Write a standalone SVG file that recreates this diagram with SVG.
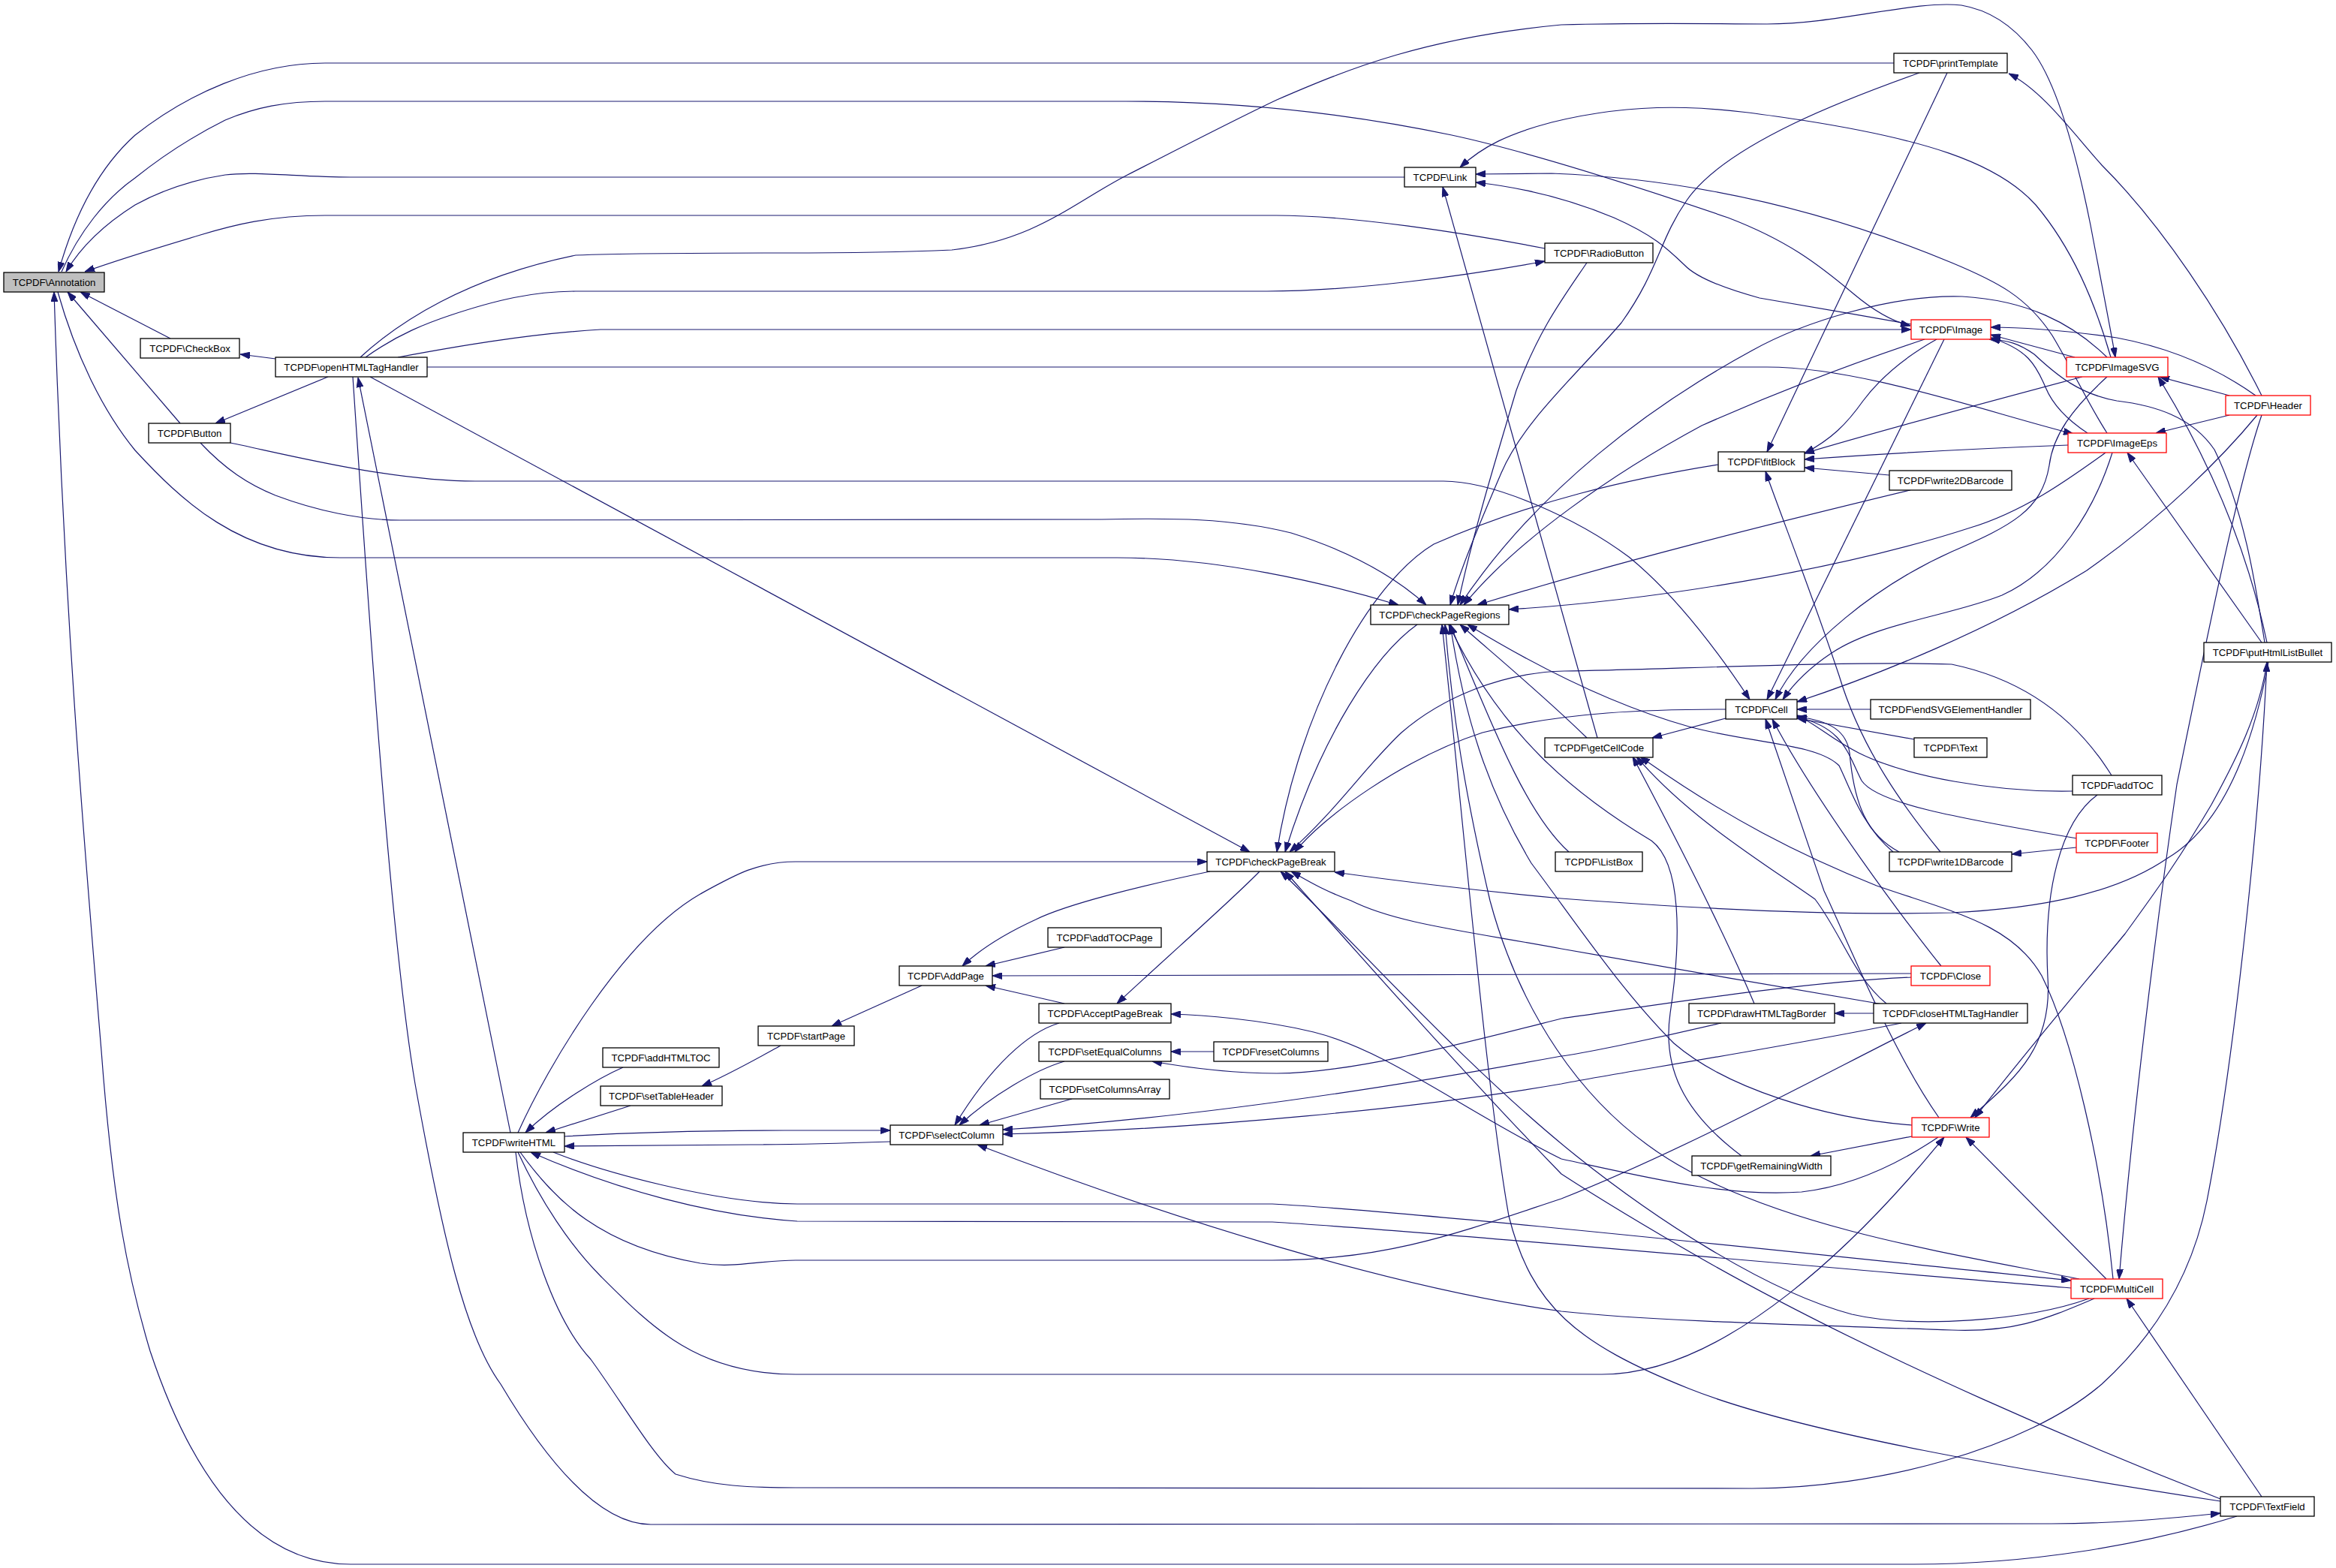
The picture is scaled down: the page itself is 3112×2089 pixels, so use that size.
<svg xmlns="http://www.w3.org/2000/svg" width="3112" height="2089" viewBox="0 0 3112 2089">
<defs>
<style>
.e path{fill:none;stroke:#191970;stroke-width:1.2;marker-end:url(#ah)}
.n rect{fill:#ffffff;stroke:#000000;stroke-width:1.3}
.n.r rect{stroke:#ff0000}
.n.g rect{fill:#bfbfbf}
.n text{font-family:"Liberation Sans",Arial,sans-serif;font-size:13.2px;text-anchor:middle;fill:#000000}
</style>
<marker id="ah" viewBox="0 0 13 9" refX="13" refY="4.5" markerWidth="13" markerHeight="9" markerUnits="userSpaceOnUse" orient="auto"><path d="M0,0L13,4.5L0,9z" fill="#191970" stroke="#191970" stroke-width="1"/></marker>
</defs>
<rect x="0" y="0" width="3112" height="2089" fill="#ffffff"/>
<g id="edges" class="e">
<path d="M2523,84 L433,84 C340,84 250,125 180,180 C130,225 98,290 78,362"/>
<path d="M82,362 C105,310 140,265 180,237 C220,205 260,180 300,160 C340,143 380,135 433,135 L1500,135 C1650,135 1800,152 1934,180 C2050,205 2200,255 2302,290 C2380,320 2420,350 2470,392 C2495,413 2520,428 2545,434"/>
<path d="M1871,236 L467,236 C400,236 340,228 300,233 C240,242 200,262 180,273 C145,295 110,325 88,362"/>
<path d="M2058,331 C1950,310 1800,287 1700,287 L433,287 C360,287 310,300 267,313 C210,330 160,345 113,362"/>
<path d="M77,389 C100,470 135,545 180,600 C240,665 320,743 453,743 L1488,743 C1620,743 1760,775 1863,806"/>
<path d="M227,451 L107,389"/>
<path d="M240,564 L90,389"/>
<path d="M2980,2020 C2850,2060 2700,2084 2550,2084 L467,2084 C330,2084 250,1950 200,1800 C170,1700 150,1600 135,1400 C110,1100 85,800 72,389"/>
<path d="M367,478 L320,472"/>
<path d="M437,502 L287,564"/>
<path d="M307,590 C380,605 520,641 633,641 L1923,641 C1990,641 2100,690 2170,742 C2235,795 2290,870 2331,932"/>
<path d="M267,590 C300,625 330,645 367,660 C420,680 480,693 533,693 L1468,692 C1560,690 1640,690 1720,710 C1800,735 1860,770 1900,806"/>
<path d="M480,476 C530,430 620,370 767,340 C850,337 950,337 1045,337 C1150,337 1200,336 1268,333 C1380,320 1430,270 1502,233 C1600,183 1650,157 1701,133 C1800,90 1900,50 2080,33 C2200,30 2280,32 2354,32 C2450,32 2550,0 2613,7 C2660,15 2690,45 2707,67 C2740,110 2765,200 2785,300 C2800,380 2812,440 2818,476"/>
<path d="M487,476 C530,445 570,430 600,420 C660,400 710,388 767,388 L1688,388 C1800,388 1950,368 2058,348"/>
<path d="M530,476 C600,463 700,445 800,439 L2546,439"/>
<path d="M569,489 L2354,489 C2480,489 2650,550 2762,578"/>
<path d="M493,502 L1665,1135"/>
<path d="M470,502 C490,800 520,1250 553,1444 C590,1650 620,1780 667,1844 C730,1950 800,2031 867,2031 L2733,2030 C2820,2030 2900,2022 2958,2016"/>
<path d="M680,1509 L477,503"/>
<path d="M690,1509 C730,1420 830,1250 933,1191 C980,1165 1010,1148 1060,1148 L1608,1148"/>
<path d="M830,1422 C800,1435 740,1470 700,1509"/>
<path d="M840,1473 L727,1509"/>
<path d="M752,1514 C850,1508 950,1506 1045,1506 L1186,1506"/>
<path d="M1186,1521 C1100,1524 1050,1525 1000,1525 L752,1527"/>
<path d="M737,1535 C800,1560 950,1603 1062,1604 L1695,1604 C1900,1615 2500,1680 2759,1706"/>
<path d="M2759,1716 C2500,1695 1900,1640 1695,1628 L1062,1627 C950,1620 820,1585 707,1535"/>
<path d="M693,1535 C740,1600 800,1660 933,1683 C980,1690 1010,1679 1060,1679 L1695,1679 C1850,1679 1950,1640 2080,1597 C2250,1530 2450,1420 2566,1363"/>
<path d="M690,1535 C720,1600 760,1660 800,1700 C870,1770 930,1831 1060,1831 L2134,1831 C2300,1831 2480,1650 2590,1515"/>
<path d="M687,1535 C700,1650 740,1760 787,1811 C830,1870 870,1940 900,1964 C950,1980 1000,1982 1060,1982 L2334,1983 C2500,1983 2700,1930 2800,1844 C2870,1780 2920,1700 2940,1600 C2975,1420 3010,1100 3020,882"/>
<path d="M1040,1393 C1000,1415 970,1432 935,1447"/>
<path d="M1228,1313 L1108,1367"/>
<path d="M1612,1161 C1520,1180 1420,1205 1380,1225 C1330,1248 1300,1270 1282,1287"/>
<path d="M1418,1262 L1313,1287"/>
<path d="M1418,1337 L1313,1313"/>
<path d="M2546,1297 C2300,1298 1900,1300 1322,1300"/>
<path d="M2546,1302 C2400,1308 2200,1340 2080,1357 C1950,1390 1800,1430 1701,1430 C1640,1430 1580,1422 1535,1414"/>
<path d="M1411,1363 C1370,1375 1320,1420 1272,1499"/>
<path d="M1418,1414 C1380,1425 1320,1460 1278,1499"/>
<path d="M1428,1464 L1305,1499"/>
<path d="M2533,1363 C2350,1400 2150,1430 2080,1444 C1900,1475 1600,1505 1336,1511"/>
<path d="M2293,1363 C2200,1385 2100,1405 2080,1407 C1900,1440 1600,1490 1336,1505"/>
<path d="M2790,1730 C2720,1760 2680,1775 2600,1772 C2400,1765 2200,1760 2080,1747 C1850,1715 1550,1620 1302,1525"/>
<path d="M1617,1401 L1560,1401"/>
<path d="M1678,1161 C1640,1200 1560,1270 1488,1337"/>
<path d="M2582,1515 C2530,1550 2470,1580 2400,1588 C2300,1595 2200,1570 2080,1544 C1950,1480 1850,1400 1750,1375 C1680,1358 1600,1352 1560,1351"/>
<path d="M1888,832 C1832,872 1760,980 1712,1135"/>
<path d="M2289,619 C2170,638 2040,668 1910,725 C1823,777 1730,950 1701,1135"/>
<path d="M2299,945 C2200,945 2084,948 1975,976 C1870,1010 1760,1090 1725,1135"/>
<path d="M2813,1033 C2780,980 2720,910 2600,885 C2450,880 2200,893 2084,894 C2000,896 1920,930 1867,976 C1820,1020 1780,1080 1718,1135"/>
<path d="M3022,882 C3000,1000 2960,1100 2888,1143 C2820,1190 2720,1210 2600,1216 C2450,1220 2250,1210 2080,1197 C1950,1185 1850,1172 1778,1162"/>
<path d="M2958,1997 C2800,1935 2500,1810 2267,1677 C2180,1627 2120,1590 2080,1564 C1950,1430 1800,1260 1712,1161"/>
<path d="M2520,1340 C2400,1320 2200,1285 2080,1264 C1950,1240 1860,1230 1800,1200 C1760,1185 1740,1172 1720,1161"/>
<path d="M2557,97 C2470,128 2300,190 2247,267 C2210,320 2210,360 2160,430 C2100,500 2030,560 2000,630 C1970,700 1945,760 1932,806"/>
<path d="M2594,97 L2354,602"/>
<path d="M3013,527 C2960,420 2880,300 2800,220 C2760,175 2720,120 2676,98"/>
<path d="M3005,527 C2960,495 2900,465 2820,450 C2750,440 2700,436 2652,436"/>
<path d="M2970,527 L2877,502"/>
<path d="M2970,553 L2872,577"/>
<path d="M3007,553 C2960,610 2880,690 2780,760 C2650,840 2500,900 2394,935"/>
<path d="M3013,553 C2980,650 2940,850 2900,1045 C2870,1250 2840,1500 2823,1704"/>
<path d="M2812,476 C2790,400 2760,330 2712,273 C2660,215 2560,185 2400,160 C2300,145 2200,130 2067,163 C2010,178 1975,195 1945,223"/>
<path d="M2764,476 L2652,446"/>
<path d="M2774,502 C2650,535 2500,575 2404,604"/>
<path d="M2807,502 C2760,545 2735,580 2730,620 C2720,680 2680,700 2600,735 C2500,780 2400,860 2365,932"/>
<path d="M2807,476 C2760,430 2700,400 2614,395 C2520,392 2400,430 2334,467 C2200,540 2050,650 1945,806"/>
<path d="M3020,856 C3000,760 2960,640 2875,502"/>
<path d="M3013,856 L2834,603"/>
<path d="M3017,856 C3005,780 2990,680 2950,599 C2920,555 2870,540 2820,534 C2770,525 2740,500 2710,472 C2690,458 2675,453 2650,452"/>
<path d="M3020,882 C3010,950 2980,1010 2946,1072 C2900,1150 2870,1190 2831,1244 C2760,1330 2700,1400 2631,1489"/>
<path d="M2807,577 C2780,535 2760,490 2734,447 C2700,395 2660,375 2600,350 C2480,300 2300,240 2067,231 L1966,232"/>
<path d="M2781,577 C2755,560 2735,540 2725,516 C2712,485 2700,465 2652,450"/>
<path d="M2755,593 C2650,597 2500,605 2404,612"/>
<path d="M2805,603 C2760,635 2700,680 2625,703 C2450,760 2200,800 2010,812"/>
<path d="M2814,603 C2790,680 2740,760 2667,793 C2600,820 2500,830 2440,870 C2410,890 2390,910 2375,932"/>
<path d="M2546,432 C2480,420 2400,407 2344,397 C2300,385 2260,370 2244,353 C2220,330 2202,313 2150,290 C2090,265 2030,250 1966,243"/>
<path d="M2580,452 C2530,480 2500,510 2482,534 C2460,565 2440,585 2404,604"/>
<path d="M2590,452 L2354,932"/>
<path d="M2564,452 C2450,490 2350,530 2267,567 C2150,630 2020,720 1950,806"/>
<path d="M2517,633 L2404,623"/>
<path d="M2545,653 C2350,700 2150,750 1968,806"/>
<path d="M2585,1135 C2540,1080 2480,1000 2450,900 C2410,780 2370,680 2352,628"/>
<path d="M2530,1135 C2487,1112 2470,1072 2464,1003 C2460,975 2440,960 2394,955"/>
<path d="M2522,1135 C2480,1100 2465,1050 2450,1020 C2420,990 2330,990 2250,968 C2150,940 2050,890 1955,832"/>
<path d="M2766,1129 L2680,1138"/>
<path d="M2767,1117 C2602,1089 2500,1070 2480,1040 C2460,1000 2455,970 2394,955"/>
<path d="M2761,1054 C2660,1056 2540,1035 2476,1003 C2440,985 2420,965 2394,953"/>
<path d="M2794,1059 C2745,1095 2722,1187 2728,1302 C2735,1399 2680,1440 2625,1489"/>
<path d="M2492,945 L2394,945"/>
<path d="M2550,985 L2394,957"/>
<path d="M2586,1287 C2540,1230 2420,1070 2361,958"/>
<path d="M2583,1489 C2520,1400 2460,1250 2430,1187 C2400,1100 2370,1010 2352,958"/>
<path d="M2547,1514 L2412,1540"/>
<path d="M2547,1499 C2430,1490 2300,1450 2230,1390 C2160,1320 2100,1230 2040,1150 C1980,1050 1950,950 1932,832"/>
<path d="M2806,1704 L2619,1515"/>
<path d="M2815,1704 C2800,1550 2760,1380 2720,1300 C2680,1230 2600,1215 2500,1180 C2400,1140 2300,1090 2185,1008"/>
<path d="M2770,1704 C2600,1670 2400,1640 2250,1560 C2100,1480 2020,1330 1985,1200 C1950,1050 1935,950 1925,832"/>
<path d="M2783,1730 C2700,1760 2550,1770 2467,1751 C2350,1720 2200,1620 2100,1540 C1950,1420 1800,1250 1706,1161"/>
<path d="M3013,1994 L2833,1730"/>
<path d="M2958,2000 C2700,1960 2400,1910 2250,1850 C2100,1790 2040,1740 2010,1620 C1980,1450 1950,1100 1921,832"/>
<path d="M2496,1350 L2444,1350"/>
<path d="M2513,1337 C2470,1302 2453,1244 2418,1198 C2350,1150 2250,1090 2180,1008"/>
<path d="M2337,1337 C2300,1250 2240,1130 2175,1008"/>
<path d="M2320,1540 C2240,1480 2215,1420 2225,1350 C2240,1250 2240,1150 2200,1120 C2100,1060 2000,980 1930,832"/>
<path d="M2090,1135 C2040,1090 2000,1000 1932,832"/>
<path d="M2114,983 C2060,930 2000,880 1945,832"/>
<path d="M2128,983 L1922,249"/>
<path d="M2299,957 L2201,983"/>
<path d="M2114,350 C2080,400 2050,440 2020,520 C1990,620 1960,720 1942,806"/>
</g>
<g id="n-Annotation" class="n g"><rect x="5" y="363" width="134" height="26"/><text x="72" y="380.7">TCPDF\Annotation</text></g>
<g id="n-CheckBox" class="n"><rect x="187" y="451" width="132" height="26"/><text x="253" y="468.7">TCPDF\CheckBox</text></g>
<g id="n-Button" class="n"><rect x="198" y="564" width="109" height="26"/><text x="252.5" y="581.7">TCPDF\Button</text></g>
<g id="n-openHTMLTagHandler" class="n"><rect x="367" y="476" width="202" height="26"/><text x="468" y="493.7">TCPDF\openHTMLTagHandler</text></g>
<g id="n-writeHTML" class="n"><rect x="617" y="1509" width="135" height="26"/><text x="684.5" y="1526.7">TCPDF\writeHTML</text></g>
<g id="n-addHTMLTOC" class="n"><rect x="803" y="1396" width="155" height="26"/><text x="880.5" y="1413.7">TCPDF\addHTMLTOC</text></g>
<g id="n-setTableHeader" class="n"><rect x="800" y="1447" width="162" height="26"/><text x="881" y="1464.7">TCPDF\setTableHeader</text></g>
<g id="n-startPage" class="n"><rect x="1010" y="1367" width="128" height="26"/><text x="1074" y="1384.7">TCPDF\startPage</text></g>
<g id="n-AddPage" class="n"><rect x="1198" y="1287" width="124" height="26"/><text x="1260" y="1304.7">TCPDF\AddPage</text></g>
<g id="n-selectColumn" class="n"><rect x="1186" y="1499" width="150" height="26"/><text x="1261" y="1516.7">TCPDF\selectColumn</text></g>
<g id="n-addTOCPage" class="n"><rect x="1396" y="1236" width="151" height="26"/><text x="1471.5" y="1253.7">TCPDF\addTOCPage</text></g>
<g id="n-AcceptPageBreak" class="n"><rect x="1384" y="1337" width="176" height="26"/><text x="1472" y="1354.7">TCPDF\AcceptPageBreak</text></g>
<g id="n-setEqualColumns" class="n"><rect x="1384" y="1388" width="176" height="26"/><text x="1472" y="1405.7">TCPDF\setEqualColumns</text></g>
<g id="n-setColumnsArray" class="n"><rect x="1386" y="1438" width="172" height="26"/><text x="1472" y="1455.7">TCPDF\setColumnsArray</text></g>
<g id="n-checkPageBreak" class="n"><rect x="1608" y="1135" width="170" height="26"/><text x="1693" y="1152.7">TCPDF\checkPageBreak</text></g>
<g id="n-resetColumns" class="n"><rect x="1617" y="1388" width="152" height="26"/><text x="1693" y="1405.7">TCPDF\resetColumns</text></g>
<g id="n-checkPageRegions" class="n"><rect x="1826" y="806" width="184" height="26"/><text x="1918" y="823.7">TCPDF\checkPageRegions</text></g>
<g id="n-Link" class="n"><rect x="1871" y="223" width="95" height="26"/><text x="1918.5" y="240.7">TCPDF\Link</text></g>
<g id="n-RadioButton" class="n"><rect x="2058" y="324" width="144" height="26"/><text x="2130" y="341.7">TCPDF\RadioButton</text></g>
<g id="n-getCellCode" class="n"><rect x="2058" y="983" width="144" height="26"/><text x="2130" y="1000.7">TCPDF\getCellCode</text></g>
<g id="n-ListBox" class="n"><rect x="2072" y="1135" width="116" height="26"/><text x="2130" y="1152.7">TCPDF\ListBox</text></g>
<g id="n-fitBlock" class="n"><rect x="2289" y="602" width="115" height="26"/><text x="2346.5" y="619.7">TCPDF\fitBlock</text></g>
<g id="n-Cell" class="n"><rect x="2299" y="932" width="95" height="26"/><text x="2346.5" y="949.7">TCPDF\Cell</text></g>
<g id="n-drawHTMLTagBorder" class="n"><rect x="2250" y="1337" width="194" height="26"/><text x="2347" y="1354.7">TCPDF\drawHTMLTagBorder</text></g>
<g id="n-getRemainingWidth" class="n"><rect x="2254" y="1540" width="185" height="26"/><text x="2346.5" y="1557.7">TCPDF\getRemainingWidth</text></g>
<g id="n-printTemplate" class="n"><rect x="2523" y="71" width="151" height="26"/><text x="2598.5" y="88.7">TCPDF\printTemplate</text></g>
<g id="n-Image" class="n r"><rect x="2546" y="426" width="106" height="26"/><text x="2599" y="443.7">TCPDF\Image</text></g>
<g id="n-write2DBarcode" class="n"><rect x="2517" y="627" width="163" height="26"/><text x="2598.5" y="644.7">TCPDF\write2DBarcode</text></g>
<g id="n-endSVGElementHandler" class="n"><rect x="2492" y="932" width="213" height="26"/><text x="2598.5" y="949.7">TCPDF\endSVGElementHandler</text></g>
<g id="n-Text" class="n"><rect x="2550" y="983" width="97" height="26"/><text x="2598.5" y="1000.7">TCPDF\Text</text></g>
<g id="n-write1DBarcode" class="n"><rect x="2517" y="1135" width="163" height="26"/><text x="2598.5" y="1152.7">TCPDF\write1DBarcode</text></g>
<g id="n-Close" class="n r"><rect x="2546" y="1287" width="105" height="26"/><text x="2598.5" y="1304.7">TCPDF\Close</text></g>
<g id="n-closeHTMLTagHandler" class="n"><rect x="2496" y="1337" width="205" height="26"/><text x="2598.5" y="1354.7">TCPDF\closeHTMLTagHandler</text></g>
<g id="n-Write" class="n r"><rect x="2547" y="1489" width="103" height="26"/><text x="2598.5" y="1506.7">TCPDF\Write</text></g>
<g id="n-ImageSVG" class="n r"><rect x="2753" y="476" width="135" height="26"/><text x="2820.5" y="493.7">TCPDF\ImageSVG</text></g>
<g id="n-ImageEps" class="n r"><rect x="2755" y="577" width="131" height="26"/><text x="2820.5" y="594.7">TCPDF\ImageEps</text></g>
<g id="n-addTOC" class="n"><rect x="2761" y="1033" width="119" height="26"/><text x="2820.5" y="1050.7">TCPDF\addTOC</text></g>
<g id="n-Footer" class="n r"><rect x="2766" y="1110" width="108" height="26"/><text x="2820" y="1127.7">TCPDF\Footer</text></g>
<g id="n-MultiCell" class="n r"><rect x="2759" y="1704" width="122" height="26"/><text x="2820" y="1721.7">TCPDF\MultiCell</text></g>
<g id="n-Header" class="n r"><rect x="2965" y="527" width="113" height="26"/><text x="3021.5" y="544.7">TCPDF\Header</text></g>
<g id="n-putHtmlListBullet" class="n"><rect x="2936" y="856" width="170" height="26"/><text x="3021" y="873.7">TCPDF\putHtmlListBullet</text></g>
<g id="n-TextField" class="n"><rect x="2958" y="1994" width="125" height="26"/><text x="3020.5" y="2011.7">TCPDF\TextField</text></g>
</svg>
